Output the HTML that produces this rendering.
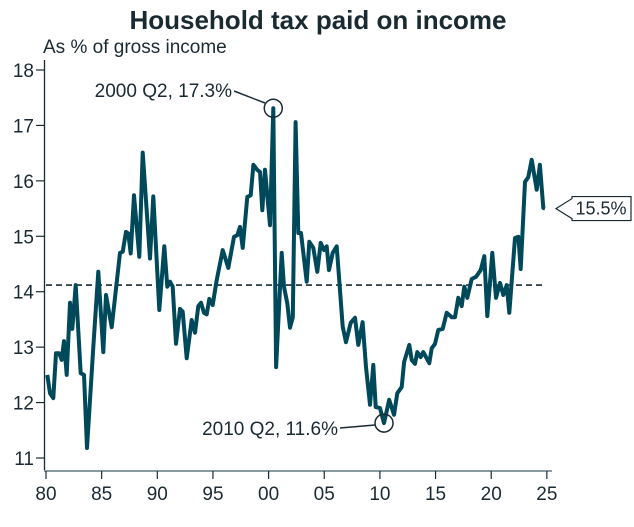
<!DOCTYPE html>
<html><head><meta charset="utf-8"><style>
body{margin:0;background:#fff;}
svg text{font-family:"Liberation Sans",sans-serif;fill:#1a2a33;}
</style></head><body>
<svg id="chart" width="634" height="522" viewBox="0 0 634 522" xmlns="http://www.w3.org/2000/svg">
<text x="318" y="29" text-anchor="middle" font-size="26" font-weight="bold">Household tax paid on income</text>
<text x="43" y="53" font-size="19">As % of gross income</text>
<g id="axes"></g>
<g id="plot"></g>
</svg>
<script>
const years=[80.12,80.36,80.66,80.90,81.19,81.41,81.62,81.86,82.16,82.36,82.67,83.12,83.41,83.68,84.25,84.70,85.15,85.39,85.90,86.65,86.89,87.19,87.39,87.61,87.91,88.38,88.69,89.34,89.64,90.18,90.63,90.90,91.14,91.38,91.68,92.04,92.28,92.64,93.09,93.39,93.68,93.93,94.20,94.44,94.67,94.98,95.34,95.88,96.38,96.89,97.19,97.43,97.67,98.09,98.39,98.63,98.98,99.23,99.43,99.68,100.13,100.42,100.67,101.18,101.38,101.68,101.92,102.17,102.43,102.67,102.91,103.42,103.66,104.02,104.38,104.68,104.98,105.22,105.43,105.76,106.12,106.66,106.95,107.38,107.76,108.06,108.45,108.75,109.11,109.41,109.62,110.01,110.37,110.84,111.27,111.56,111.96,112.17,112.64,112.86,113.15,113.36,113.67,113.90,114.44,114.65,114.95,115.25,115.64,116.00,116.45,116.75,117.04,117.35,117.58,117.85,118.25,118.63,119.06,119.38,119.65,120.10,120.43,120.79,121.09,121.39,121.63,122.14,122.44,122.65,123.04,123.33,123.64,124.09,124.38,124.68,124.83];
const taxShare=[12.50,12.17,12.08,12.89,12.89,12.77,13.11,12.50,13.80,13.33,14.12,12.53,12.50,11.18,13.00,14.36,12.91,13.94,13.36,14.70,14.72,15.08,15.05,14.69,15.74,14.63,16.51,14.60,15.72,13.67,14.82,14.09,14.18,14.09,13.06,13.69,13.64,12.80,13.49,13.26,13.74,13.80,13.62,13.59,13.87,13.76,14.21,14.75,14.43,14.99,15.02,15.17,14.79,15.71,15.74,16.29,16.20,16.16,15.47,16.20,15.20,17.31,12.64,14.70,14.09,13.79,13.35,13.54,17.06,15.06,15.06,14.18,14.90,14.79,14.36,14.88,14.75,14.82,14.39,14.70,14.82,13.37,13.09,13.44,13.53,13.04,13.45,12.64,11.96,12.68,11.92,11.90,11.63,12.05,11.78,12.17,12.28,12.73,13.04,12.77,12.70,12.91,12.82,12.91,12.71,12.98,13.06,13.31,13.33,13.62,13.54,13.54,13.89,13.74,14.09,13.89,14.23,14.27,14.39,14.64,13.56,14.70,13.89,14.16,13.94,14.12,13.62,14.97,14.99,14.41,15.98,16.07,16.38,15.84,16.29,15.51,15.50];
const xTicks=[80,85,90,95,100,105,110,115,120,125];
const xTickLabels=["80","85","90","95","00","05","10","15","20","25"];
const yTicks=[11,12,13,14,15,16,17,18];
const averageValue=14.12;

const NS="http://www.w3.org/2000/svg";
const X=v=>46+(v-80)*11.13;
const Y=v=>70+(18-v)*55.43;
function mk(tag,attrs,parent,text){const e=document.createElementNS(NS,tag);for(const k in attrs)e.setAttribute(k,attrs[k]);if(text!==undefined)e.textContent=text;parent.appendChild(e);return e;}
const axes=document.getElementById('axes'),plot=document.getElementById('plot');
let e=mk('line',{x1:44.5,y1:60,x2:44.5,y2:471,stroke:'#1a2a33','stroke-width':1.3},axes);


e=mk('line',{x1:44,y1:471,x2:552,y2:471,stroke:'#8a9aa3','stroke-width':2},axes);


yTicks.forEach(t=>{
 const y=Y(t);
 let l=mk('line',{x1:36,y1:y,x2:44,y2:y,stroke:'#1a2a33','stroke-width':1.2},axes);
 
 
 let tx=mk('text',{x:34,y:y+7,'text-anchor':'end','font-size':19},axes,String(t));
 
 
});
xTicks.forEach((t,i)=>{
 const x=X(t);
 let l=mk('line',{x1:x,y1:471,x2:x,y2:479,stroke:'#1a2a33','stroke-width':1.2},axes);
 
 
 let tx=mk('text',{x:x,y:500,'text-anchor':'middle','font-size':19},axes,xTickLabels[i]);
 
 
});
e=mk('line',{x1:X(80),y1:Y(averageValue),x2:X(124.9),y2:Y(averageValue),stroke:'#1a2a33','stroke-width':1.6,'stroke-dasharray':'6,4'},plot);


const d=years.map((yr,i)=>(i?'L':'M')+X(yr).toFixed(1)+','+Y(taxShare[i]).toFixed(1)).join(' ');
e=mk('path',{d:d,fill:'none',stroke:'#00495a','stroke-width':4,'stroke-linejoin':'round'},plot);


const peakX=X(100.42),peakY=Y(17.31),lowX=X(110.37),lowY=Y(11.63);
e=mk('circle',{cx:peakX,cy:peakY,r:9,fill:'none',stroke:'#1a2a33','stroke-width':1.5},plot);


e=mk('line',{x1:234,y1:91,x2:265,y2:103,stroke:'#1a2a33','stroke-width':1.5},plot);


e=mk('text',{x:232,y:97,'text-anchor':'end','font-size':19},plot,'2000 Q2, 17.3%');


e=mk('circle',{cx:lowX,cy:lowY,r:9,fill:'none',stroke:'#1a2a33','stroke-width':1.5},plot);


e=mk('line',{x1:340,y1:428,x2:375,y2:425,stroke:'#1a2a33','stroke-width':1.5},plot);


e=mk('text',{x:338,y:435,'text-anchor':'end','font-size':19},plot,'2010 Q2, 11.6%');


const ly=Y(taxShare[taxShare.length-1]);
e=mk('path',{d:`M556,${ly} L572,${ly-10} L572,${ly-12} L631,${ly-12} L631,${ly+12} L572,${ly+12} L572,${ly+10} Z`,fill:'#fff',stroke:'#1a2a33','stroke-width':1.2},plot);


e=mk('text',{x:601,y:ly+6,'text-anchor':'middle','font-size':18},plot,'15.5%');


</script>
</body></html>
